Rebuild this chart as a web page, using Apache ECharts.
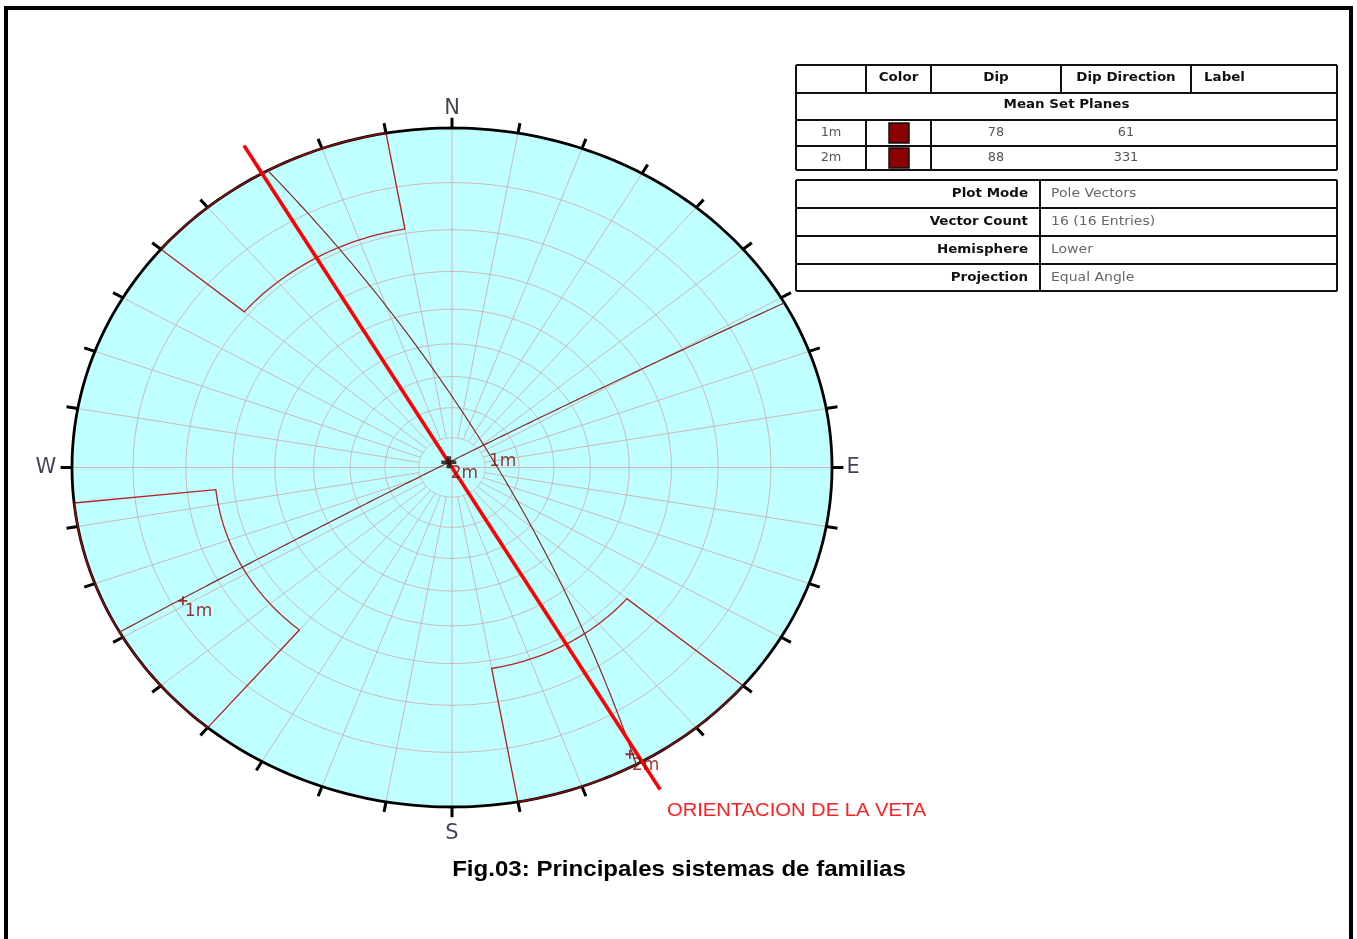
<!DOCTYPE html>
<html>
<head>
<meta charset="utf-8">
<script src="https://cdn.jsdelivr.net/npm/echarts@6/dist/echarts.min.js"></script>
<style>
html, body { margin: 0; padding: 0; background: #fff; }
#main { width: 1357px; height: 939px; }
</style>
</head>
<body>
<div id="main"></div>
<script>
// mean set planes
var planeNames = ['1m', '2m'];
var planeDips = [78, 88];
var planeDipDirs = [61, 331];

// pole windows: trend range + max plunge
var winTrendFrom = [220, 310, 130];
var winTrendTo = [264, 350, 170];
var winPlunge = [26, 19, 28];

// vein line
var veinTrend = 330;
var veinLabel = 'ORIENTACION DE LA VETA';

// polar grid
var gridPlunges = [80, 70, 60, 50, 40, 30, 20, 10];
var spokeTrends = [];
for (var a = 0; a < 360; a += 10) spokeTrends.push(a);
var compassNames = ['N', 'E', 'S', 'W'];
var compassTrends = [0, 90, 180, 270];

// tables
var tableHead = ['', 'Color', 'Dip', 'Dip Direction', 'Label'];
var tableSection = 'Mean Set Planes';
var infoKeys = ['Plot Mode', 'Vector Count', 'Hemisphere', 'Projection'];
var infoValues = ['Pole Vectors', '16 (16 Entries)', 'Lower', 'Equal Angle'];
var caption = 'Fig.03: Principales sistemas de familias';

var D2R = Math.PI / 180;
var SX = 1.12; // picture is stretched sideways

// equal angle, lower hemisphere
function toXY(trend, plunge) {
    var r = Math.tan((90 - plunge) / 2 * D2R);
    return [r * Math.sin(trend * D2R), r * Math.cos(trend * D2R)];
}
function radial(trend, r) {
    return [r * Math.sin(trend * D2R), r * Math.cos(trend * D2R)];
}
function arc(plunge, t0, t1) {
    var pts = [];
    var n = Math.max(2, Math.ceil(Math.abs(t1 - t0)));
    for (var i = 0; i <= n; i++) pts.push(toXY(t0 + (t1 - t0) * i / n, plunge));
    return pts;
}
function greatCircle(dip, dipDir) {
    var st = (dipDir - 90) * D2R;
    var s = [Math.sin(st), Math.cos(st), 0];
    var d = [Math.cos(dip * D2R) * Math.sin(dipDir * D2R), Math.cos(dip * D2R) * Math.cos(dipDir * D2R), Math.sin(dip * D2R)];
    var pts = [];
    for (var t = 0; t <= 180; t++) {
        var c = Math.cos(t * D2R), sn = Math.sin(t * D2R);
        var e = c * s[0] + sn * d[0], n = c * s[1] + sn * d[1], dn = c * s[2] + sn * d[2];
        pts.push([e / (1 + dn), n / (1 + dn)]);
    }
    return pts;
}
function poleXY(dip, dipDir) {
    return toXY(dipDir + 180, 90 - dip);
}
function dipXY(dip, dipDir) {
    return toXY(dipDir, dip);
}

// build line data
var gridLines = [];
gridPlunges.forEach(function(p) { gridLines.push({ coords: arc(p, 0, 360) }); });
spokeTrends.forEach(function(t) {
    var from = (t % 90 === 0) ? 0 : Math.tan(5 * D2R);
    gridLines.push({ coords: [radial(t, from), radial(t, 1)] });
});

var winLines = [], winEdges = [];
for (var i = 0; i < winTrendFrom.length; i++) {
    var c = [toXY(winTrendFrom[i], 0)].concat(arc(winPlunge[i], winTrendFrom[i], winTrendTo[i]));
    c.push(toXY(winTrendTo[i], 0));
    winLines.push({ coords: c });
    winEdges.push({ coords: arc(0, winTrendFrom[i], winTrendTo[i]) });
}

var tickLines = spokeTrends.map(function(t) { return { coords: [radial(t, 1), radial(t, 1.03)] }; });

var gcLines = planeNames.map(function(n, i) { return { coords: greatCircle(planeDips[i], planeDipDirs[i]) }; });

var poleData = planeNames.map(function(n, i) {
    return { name: n, value: poleXY(planeDips[i], planeDipDirs[i]) };
});
var dipData = planeNames.map(function(n, i) {
    return { name: n, value: dipXY(planeDips[i], planeDipDirs[i]) };
});
var compassOffsets = [[0, 3], [-4, 0], [0, 4], [-1, 0]];
var compassData = compassNames.map(function(n, i) {
    return { name: n, value: radial(compassTrends[i], 1.066), label: { offset: compassOffsets[i] } };
});

var discPts = arc(0, 0, 360);
var plusPath = 'path://M4,0h2v4h4v2h-4v4h-2v-4h-4v-2h4z';
var fatPlus = 'path://M3.5,0h3v3.5h3.5v3h-3.5v3.5h-3v-3.5h-3.5v-3h3.5z';
var hidden = { color: 'rgba(0,0,0,0)' };

var labelStyle = {
    show: true, position: 'inside', align: 'left', verticalAlign: 'middle',
    offset: [2, 11], formatter: '{b}', color: '#8b0000',
    fontFamily: 'DejaVu Sans', fontSize: 17
};

// table graphics
var g = [];
function ln(x1, y1, x2, y2, w) {
    g.push({ type: 'line', shape: { x1: x1, y1: y1, x2: x2, y2: y2 }, style: { stroke: '#111', lineWidth: w || 2 }, z: 10 });
}
function tx(x, y, s, align, bold, color, size) {
    g.push({ type: 'text', x: x, y: y, z: 11, scaleX: SX, style: {
        text: s, textAlign: align, textVerticalAlign: 'middle',
        fontFamily: 'DejaVu Sans', fontSize: size || 12, fontWeight: bold ? 'bold' : 'normal',
        fill: color || '#111' } });
}
var tc = [796, 866, 931, 1061, 1191, 1337];
var tr = [65, 93, 120, 146, 170];
tr.forEach(function(y) { ln(tc[0], y, tc[5], y); });
ln(tc[0], tr[0], tc[0], tr[4]);
ln(tc[5], tr[0], tc[5], tr[4]);
for (var k = 1; k < 5; k++) ln(tc[k], tr[0], tc[k], tr[1]);
ln(tc[1], tr[2], tc[1], tr[4]);
ln(tc[2], tr[2], tc[2], tr[4]);
tx((tc[1] + tc[2]) / 2, 78, tableHead[1], 'center', true);
tx((tc[2] + tc[3]) / 2, 78, tableHead[2], 'center', true);
tx((tc[3] + tc[4]) / 2, 78, tableHead[3], 'center', true);
tx(tc[4] + 13, 78, tableHead[4], 'left', true);
tx((tc[0] + tc[5]) / 2, 105, tableSection, 'center', true);
planeNames.forEach(function(n, i) {
    var y = (tr[2 + i] + tr[3 + i]) / 2;
    tx((tc[0] + tc[1]) / 2, y, n, 'center', false, '#555', 11.5);
    g.push({ type: 'rect', shape: { x: 889, y: y - 10, width: 20, height: 20 }, style: { fill: '#8b0000', stroke: '#111', lineWidth: 1.5 }, z: 11 });
    tx((tc[2] + tc[3]) / 2, y, String(planeDips[i]), 'center', false, '#555', 11.5);
    tx((tc[3] + tc[4]) / 2, y, String(planeDipDirs[i]), 'center', false, '#555', 11.5);
});
var ic = [796, 1040, 1337];
var ir = [180, 208, 236, 264, 291];
ir.forEach(function(y) { ln(ic[0], y, ic[2], y); });
ln(ic[0], ir[0], ic[0], ir[4]);
ln(ic[1], ir[0], ic[1], ir[4]);
ln(ic[2], ir[0], ic[2], ir[4]);
infoKeys.forEach(function(kk, i) {
    var y = (ir[i] + ir[i + 1]) / 2;
    tx(1028, y, kk, 'right', true);
    tx(1051, y, infoValues[i], 'left', false, '#666', 12.5);
});
// frame, caption, vein label
g.push({ type: 'rect', shape: { x: 6, y: 8, width: 1345, height: 1000 }, style: { fill: 'none', stroke: '#000', lineWidth: 4 }, z: 20 });
g.push({ type: 'text', x: 679, y: 870, z: 11, scaleX: SX, style: { text: caption, textAlign: 'center', textVerticalAlign: 'middle', fontFamily: 'Liberation Sans, Arial', fontWeight: 'bold', fontSize: 21.5, fill: '#000' } });
g.push({ type: 'text', x: 667, y: 811, z: 11, scaleX: SX, style: { text: veinLabel, textAlign: 'left', textVerticalAlign: 'middle', fontFamily: 'Liberation Sans, Arial', fontSize: 18, fill: '#ff2020' } });

var chart = echarts.init(document.getElementById('main'));
chart.setOption({
    animation: false,
    grid: { left: 72, top: 128, width: 760, height: 679 },
    xAxis: { type: 'value', min: -1, max: 1, show: false },
    yAxis: { type: 'value', min: -1, max: 1, show: false },
    graphic: g,
    series: [{
        type: 'custom', z: 1, silent: true, clip: false,
        data: [[0, 0]],
        renderItem: function(params, api) {
            return { type: 'polygon', shape: { points: discPts.map(function(p) { return api.coord(p); }) }, style: { fill: '#c0ffff' } };
        }
    }, {
        type: 'lines', coordinateSystem: 'cartesian2d', polyline: true, z: 2, silent: true, clip: false,
        lineStyle: { color: '#cbb9b9', width: 1, opacity: 1 },
        data: gridLines
    }, {
        type: 'lines', coordinateSystem: 'cartesian2d', polyline: true, z: 3, silent: true, clip: false,
        lineStyle: { color: '#b82222', width: 1.3, opacity: 1 },
        data: winLines
    }, {
        type: 'lines', coordinateSystem: 'cartesian2d', polyline: true, z: 4, silent: true, clip: false,
        lineStyle: { color: '#000', width: 2.8, opacity: 1 },
        data: [{ coords: discPts }]
    }, {
        type: 'lines', coordinateSystem: 'cartesian2d', polyline: true, z: 4, silent: true, clip: false,
        lineStyle: { color: '#000', width: 3, opacity: 1 },
        data: tickLines
    }, {
        type: 'lines', coordinateSystem: 'cartesian2d', polyline: true, z: 5, silent: true, clip: false,
        lineStyle: { color: '#8b1010', width: 1.4, opacity: 1 },
        data: winEdges
    }, {
        type: 'lines', coordinateSystem: 'cartesian2d', polyline: true, z: 5, silent: true, clip: false,
        lineStyle: { color: '#872a2a', width: 1.2, opacity: 1 },
        data: gcLines
    }, {
        type: 'lines', coordinateSystem: 'cartesian2d', polyline: true, z: 6, silent: true, clip: false,
        lineStyle: { color: '#ff0000', width: 3.5, opacity: 1 },
        data: [{ coords: [radial(veinTrend, 1.095), radial(veinTrend + 180, 1.095)] }]
    }, {
        type: 'scatter', z: 7, silent: true, clip: false,
        symbol: plusPath, symbolSize: 9,
        itemStyle: { color: '#8b0000' },
        label: labelStyle,
        data: poleData
    }, {
        type: 'scatter', z: 7, silent: true, clip: false,
        symbol: 'circle', symbolSize: 2,
        itemStyle: hidden,
        label: labelStyle,
        data: [dipData[0]]
    }, {
        type: 'scatter', z: 7, silent: true, clip: false,
        symbol: fatPlus, symbolSize: [15, 12],
        itemStyle: { color: '#111' },
        label: labelStyle,
        data: [dipData[1]]
    }, {
        type: 'scatter', z: 7, silent: true, clip: false,
        symbol: 'circle', symbolSize: 2,
        itemStyle: hidden,
        label: { show: true, position: 'inside', formatter: '{b}', color: '#141428', fontFamily: 'DejaVu Sans', fontSize: 21 },
        data: compassData
    }]
});
</script>
</body>
</html>
